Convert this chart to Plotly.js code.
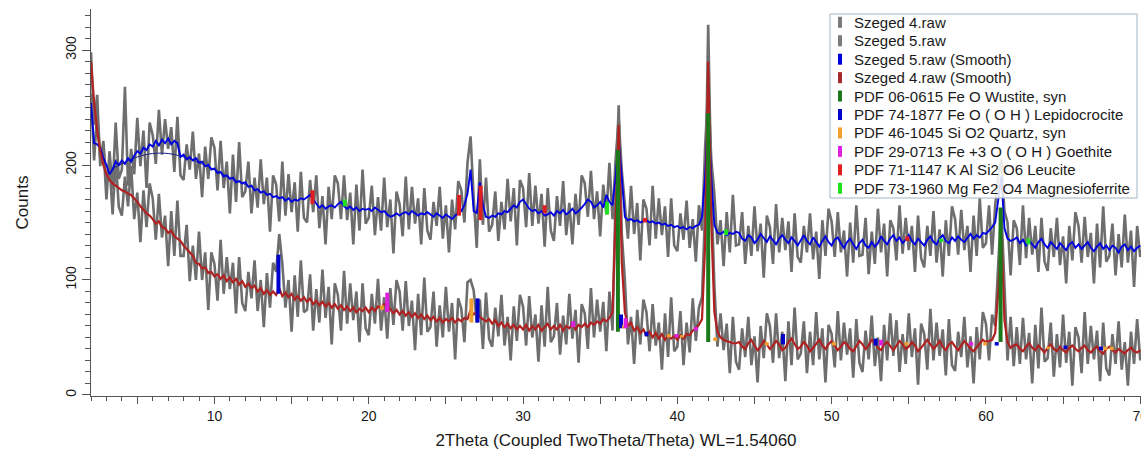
<!DOCTYPE html>
<html><head><meta charset="utf-8">
<script src="https://cdn.plot.ly/plotly-3.0.1.min.js"></script>
<style>html,body{margin:0;padding:0;background:#fff;}#chart{width:1141px;height:452px;}</style>
</head><body><div id="chart"></div>
<script>
// 2Theta grid (instrument step)
const thetaStart = 2.0, thetaStep = 0.2, nPoints = 341;
const twoTheta = Array.from({length: nPoints}, (_, i) => +(thetaStart + i * thetaStep).toFixed(1));

const raw4 = [
298,235,261,199,221,183,202,157,205,164, 156,190,164,199,153,176,133,178,146,184,
171,135,175,137,156,112,160,121,169,121, 121,148,99,130,100,142,100,124,74,124,
114,82,135,88,120,92,115,71,120,80, 73,107,84,117,73,100,59,106,76,115,
107,140,114,76,100,55,104,68,117,72, 74,105,56,92,63,109,67,94,44,97,
87,56,108,62,97,65,90,46,97,58, 52,88,62,101,56,85,49,93,61,100,
90,56,99,60,82,39,88,52,102,55, 59,90,42,78,50,94,55,80,31,84,
75,46,98,100,91,63,83,40,89,49, 42,76,51,87,43,68,30,77,47,87,
77,43,86,50,70,29,78,42,94,46, 51,80,35,69,44,88,49,74,28,79,
71,40,93,50,83,55,81,38,90,56, 175,252,140,100,44,68,27,74,44,83,
72,38,79,43,63,22,71,33,85,38, 42,73,26,63,37,84,47,76,85,160,
322,180,95,42,71,39,62,19,68,29, 22,58,33,68,26,51,11,60,32,71,
60,28,71,32,55,12,64,26,76,31, 36,64,19,55,26,72,31,58,11,61,
53,24,73,30,63,35,58,15,66,28, 20,56,31,69,25,50,12,61,30,71,
34,65,20,53,27,71,33,58,9,62, 53,22,75,30,63,34,57,17,66,26,
21,55,33,68,24,51,10,59,31,72, 62,30,70,60,115,162,95,30,68,25,
59,27,67,31,54,10,61,23,76,29, 32,63,16,53,24,70,28,55,8,59,
50,19,72,27,60,31,56,12,63,23, 17,53,27,64,22,46,8,55,27,66,30];

const raw5 = [
262,204,245,205,218,170,212,179,237,188, 196,268,182,214,192,241,199,230,180,237,
226,201,248,209,240,214,233,194,242,191, 187,218,196,229,188,210,172,216,188,224,
215,178,221,180,203,158,209,168,220,172, 177,203,158,189,163,205,166,189,142,191,
183,151,203,156,192,159,185,142,194,154, 150,187,159,191,145,173,131,181,153,191,
184,153,191,152,176,131,183,143,196,149, 154,182,139,172,143,189,146,170,123,177,
166,138,190,144,181,149,171,131,180,143, 135,168,147,181,136,165,124,170,144,186,
178,150,202,225,172,128,205,148,189,142, 148,177,134,168,144,188,151,180,130,187,
180,146,193,147,182,149,175,129,180,143, 134,173,147,186,139,167,131,175,148,191,
184,155,195,153,177,138,183,157,202,153, 205,240,195,166,136,182,140,167,117,170,
162,130,182,136,171,139,164,120,171,130, 125,158,135,169,128,153,116,165,143,215,
268,205,175,131,152,112,159,124,174,130, 131,159,114,147,121,164,125,149,102,156,
146,114,166,124,154,126,151,107,158,120, 115,147,124,158,118,142,101,152,121,162,
151,120,159,124,143,103,150,115,165,121, 122,154,105,142,114,162,124,149,103,152,
145,117,165,123,154,126,147,107,156,119, 111,147,121,160,115,144,103,152,121,164,
153,122,161,126,147,107,156,121,171,128, 132,165,122,165,190,205,160,150,104,152,
145,113,165,119,154,122,147,107,154,116, 108,145,120,154,113,138,97,147,117,159,
147,115,155,120,141,97,149,111,164,116, 121,149,104,140,111,157,115,143,94,147,120];

const smooth5 = [
254,219,218,215,206,200,192,196,203,200, 204,201,206,203,208,212,210,215,213,218,
216,221,217,222,219,223,218,221,219,207, 209,205,207,204,206,202,203,199,200,196,
197,193,194,190,191,188,189,185,186,184, 185,181,182,178,179,176,177,174,175,172,
173,171,172,169,171,168,170,169,171,170, 172,174,170,166,163,165,162,164,165,163,
166,168,164,162,164,161,163,160,162,161, 162,160,163,161,159,160,157,155,156,158,
156,158,159,157,160,158,156,158,157,159, 157,155,158,156,154,157,155,153,156,158,
160,165,175,196,160,158,185,165,155,154, 156,155,158,157,160,159,162,165,163,168,
170,166,162,160,161,158,160,156,157,159, 156,160,158,161,157,159,162,158,160,163,
166,170,168,163,165,168,163,174,168,165, 190,223,185,155,152,153,151,152,150,151,
152,150,151,149,150,148,149,147,148,146, 147,145,146,144,146,145,147,148,155,190,
250,190,148,141,140,142,139,141,140,142, 141,136,134,139,137,132,135,140,136,133,
138,134,131,136,139,135,132,137,134,130, 135,139,134,131,137,133,129,134,138,133,
130,135,137,132,128,133,136,131,127,132, 135,130,128,133,129,132,138,134,131,136,
139,134,137,132,135,139,134,131,136,133, 130,135,138,133,131,136,139,134,132,137,
134,138,135,133,137,140,136,139,137,141, 140,143,146,150,172,190,145,136,134,135,
137,132,135,130,134,131,128,133,136,131, 128,133,130,127,132,129,126,131,133,128,
131,127,130,133,128,125,129,132,127,130, 126,130,128,124,129,131,126,129,125,128,130];

const smooth4 = [
290,255,230,212,200,192,187,184,182,180, 178,177,175,174,171,168,164,161,158,156,
153,149,151,146,145,141,143,138,136,134, 130,127,124,121,115,114,110,111,106,107,
103,105,101,104,99,102,98,101,96,99, 94,97,93,95,90,93,88,91,87,90,
87,93,86,89,85,88,83,86,82,85, 81,84,79,82,78,81,77,80,76,79,
75,78,74,77,73,76,72,75,73,76, 72,76,73,77,75,79,78,74,71,74,
70,73,69,72,68,71,67,70,66,69, 65,68,64,67,63,66,64,67,63,66,
64,67,66,74,70,72,68,66,64,66, 62,65,60,63,59,62,58,61,57,60,
57,61,56,60,57,61,56,59,62,57, 60,57,61,56,60,58,62,57,61,59,
62,59,63,61,64,62,66,64,67,72, 150,235,115,72,60,63,56,59,54,57,
52,55,50,54,49,53,48,52,49,51, 48,52,49,53,52,56,58,61,66,130,
290,150,72,55,50,48,47,46,45,45, 46,42,40,45,48,43,39,42,47,44,
40,43,47,44,39,41,46,49,44,40, 42,46,43,38,41,45,48,43,40,44,
47,43,39,42,46,44,40,38,43,47, 44,40,43,48,45,41,39,44,46,42,
39,43,47,44,40,42,46,43,38,41, 45,48,44,40,43,47,42,39,44,46,
42,39,43,47,44,40,38,42,45,48, 46,47,48,54,90,140,65,46,41,43,
44,40,38,42,45,41,39,43,40,37, 41,44,40,38,42,39,37,41,43,40,
38,41,43,39,37,40,42,38,36,40, 42,39,37,40,38,36,39,41,38,37,39];

// thin amorphous background under Szeged 5 smooth
const humpX = [3.3, 4, 5, 6, 7, 8, 9, 10, 11, 12];
const humpY = [196, 201, 207, 210, 210, 207, 202, 196, 189, 183];

// PDF reference sticks: position, foot, top
const wustiteX = [36.15, 42.0, 60.95], wustiteBase = [55, 46, 46], wustiteTop = [213, 245, 163];
const lepidoX = [14.15, 27.05, 36.35, 38.0, 46.85, 52.85, 60.7, 65.15, 67.45];
const lepidoBase = [88, 63, 58, 51, 44, 43, 43, 40, 39];
const lepidoTop = [122, 84, 70, 55, 53, 49, 46, 43, 42];
const quartzX = [20.85, 26.65, 36.55, 39.45, 40.3, 42.45, 45.8, 50.15, 54.85, 59.95, 64.05, 67.75, 68.15];
const quartzBase = [74, 63, 58, 50, 50, 47, 43, 43, 43, 43, 40, 39, 39];
const quartzTop = [78, 84, 61, 53, 52, 50, 46, 46, 46, 46, 42, 42, 42];
const goethiteX = [21.2, 33.25, 36.65, 39.95, 41.2, 53.2, 59.05];
const goethiteBase = [72, 59, 58, 50, 56, 43, 43];
const goethiteTop = [89, 64, 67, 53, 59, 48, 46];
const leuciteX = [16.35, 25.85, 27.25, 31.4, 37.9, 54.9];
const leuciteBase = [166, 156, 152, 158, 150, 134];
const leuciteTop = [178, 174, 182, 165, 154, 138];
const mgfX = [18.45, 35.45, 43.15, 57.1, 62.75];
const mgfBase = [164, 157, 139, 133, 131];
const mgfTop = [170, 168, 144, 136, 136];

const legendLabels = ["Szeged 4.raw", "Szeged 5.raw", "Szeged 5.raw (Smooth)", "Szeged 4.raw (Smooth)",
  "PDF 06-0615 Fe O Wustite, syn", "PDF 74-1877 Fe O ( O H ) Lepidocrocite", "PDF 46-1045 Si O2 Quartz, syn",
  "PDF 29-0713 Fe +3 O ( O H ) Goethite", "PDF 71-1147 K Al Si2 O6 Leucite", "PDF 73-1960 Mg Fe2 O4 Magnesioferrite"];
const legendColors = ["#7a7a7a", "#7a7a7a", "#0000dd", "#a52a2a", "#1a7a1a", "#0000cc", "#f0a030", "#e020e0", "#e02020", "#20e020"];

const xTickVals = [5,10,15,20,25,30,35,40,45,50,55,60,65,70];
const xTickText = xTickVals.map(v => v % 10 === 0 ? String(v) : "");

function sticks(xs, b, t, color, width) {
  const X = [], Y = [];
  xs.forEach((x, i) => { X.push(x, x, null); Y.push(b[i], t[i], null); });
  return {x: X, y: Y, type: 'scatter', mode: 'lines', line: {color: color, width: width}, hoverinfo: 'skip', showlegend: false};
}

const traces = [
  {x: twoTheta, y: raw4, type: 'scatter', mode: 'lines', line: {color: '#6e6e6e', width: 2.6}, showlegend: false, name: 'Szeged 4.raw'},
  {x: twoTheta, y: raw5, type: 'scatter', mode: 'lines', line: {color: '#6e6e6e', width: 2.6}, showlegend: false, name: 'Szeged 5.raw'},
  {x: humpX, y: humpY, type: 'scatter', mode: 'lines', line: {color: '#20208a', width: 1, shape: 'spline'}, showlegend: false},
  {x: twoTheta, y: smooth5, type: 'scatter', mode: 'lines', line: {color: '#0000e0', width: 1.9}, showlegend: false, name: 'Szeged 5.raw (Smooth)'},
  {x: twoTheta, y: smooth4, type: 'scatter', mode: 'lines', line: {color: '#b02222', width: 2.2}, showlegend: false, name: 'Szeged 4.raw (Smooth)'},
  sticks(wustiteX, wustiteBase, wustiteTop, '#1a7a1a', 4),
  sticks(lepidoX, lepidoBase, lepidoTop, '#0000cc', 4),
  sticks(quartzX, quartzBase, quartzTop, '#f0a030', 4),
  sticks(goethiteX, goethiteBase, goethiteTop, '#e020e0', 4),
  sticks(leuciteX, leuciteBase, leuciteTop, '#e02020', 4),
  sticks(mgfX, mgfBase, mgfTop, '#20e020', 4)
];

// legend geometry (paper coords of plot area 91..1141 x 9..396)
const L = 91, W = 1050, H = 387;
const px = v => (v - L) / W, py = v => (396 - v) / H;
const shapes = [{type: 'rect', xref: 'paper', yref: 'paper', x0: px(830), x1: px(1137), y0: py(198), y1: py(14),
  fillcolor: 'rgba(255,255,255,0.86)', line: {color: '#a3b3c3', width: 1}, layer: 'above'}];
const annotations = [];
legendLabels.forEach((lab, k) => {
  const yc = 22.3 + 18.44 * k;
  shapes.push({type: 'rect', xref: 'paper', yref: 'paper', x0: px(838), x1: px(842), y0: py(yc + 5.5), y1: py(yc - 5.5),
    fillcolor: legendColors[k], line: {width: 0}, layer: 'above'});
  annotations.push({xref: 'paper', yref: 'paper', x: px(852), y: py(yc), xanchor: 'left', yanchor: 'middle',
    text: lab, showarrow: false, font: {family: 'Liberation Sans, Arial, sans-serif', size: 15, color: '#1a1a1a'}});
});

const layout = {
  width: 1141, height: 452,
  margin: {l: 91, r: 0, t: 9, b: 56},
  paper_bgcolor: '#ffffff', plot_bgcolor: '#ffffff',
  showlegend: false,
  font: {family: 'Liberation Sans, Arial, sans-serif', color: '#1a1a1a'},
  xaxis: {range: [2, 70.05], tickmode: 'array', tickvals: xTickVals, ticktext: xTickText,
    ticks: 'outside', ticklen: 7, tickcolor: '#555', showline: true, linecolor: '#555', linewidth: 1,
    showgrid: false, zeroline: false, tickfont: {size: 14, color: '#1a1a1a'}, ticklabeloverflow: 'allow',
    minor: {dtick: 1, tick0: 0, ticks: 'outside', ticklen: 4, tickcolor: '#555', showgrid: false},
    title: {text: '2Theta (Coupled TwoTheta/Theta) WL=1.54060', font: {size: 17, color: '#1a1a1a'}, standoff: 11}},
  yaxis: {range: [-0.9, 335.7], tickvals: [0, 100, 200, 300], tickangle: -90,
    ticks: 'outside', ticklen: 8, tickcolor: '#555', showline: true, linecolor: '#555', linewidth: 1,
    showgrid: false, zeroline: false, tickfont: {size: 14, color: '#1a1a1a'},
    minor: {dtick: 10, tick0: 0, ticks: 'outside', ticklen: 5, tickcolor: '#555', showgrid: false},
    title: {text: 'Counts', font: {size: 17, color: '#1a1a1a'}, standoff: 30}},
  shapes: shapes,
  annotations: annotations
};

Plotly.newPlot('chart', traces, layout, {displayModeBar: false, staticPlot: true});
</script>
</body></html>
